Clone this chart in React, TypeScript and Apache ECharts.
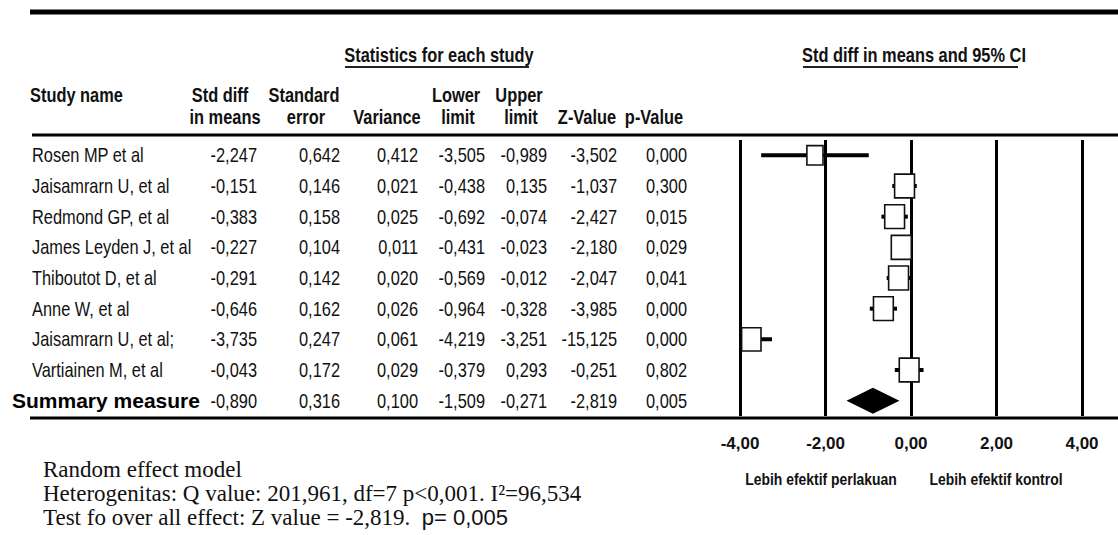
import React, { useEffect, useRef } from "react";
import * as echarts from "echarts";

// ---------------- data ----------------
const studyNames = [
  "Rosen MP et al",
  "Jaisamrarn U, et al",
  "Redmond GP, et al",
  "James Leyden J, et al",
  "Thiboutot D, et al",
  "Anne W, et al",
  "Jaisamrarn U, et al;",
  "Vartiainen M, et al",
];
const summaryName = "Summary measure";
// last entry of each array = summary measure
const stdDiff = [-2.247, -0.151, -0.383, -0.227, -0.291, -0.646, -3.735, -0.043, -0.89];
const stdError = [0.642, 0.146, 0.158, 0.104, 0.142, 0.162, 0.247, 0.172, 0.316];
const varianceVals = [0.412, 0.021, 0.025, 0.011, 0.02, 0.026, 0.061, 0.029, 0.1];
const lowerLimit = [-3.505, -0.438, -0.692, -0.431, -0.569, -0.964, -4.219, -0.379, -1.509];
const upperLimit = [-0.989, 0.135, -0.074, -0.023, -0.012, -0.328, -3.251, 0.293, -0.271];
const zValue = [-3.502, -1.037, -2.427, -2.18, -2.047, -3.985, -15.125, -0.251, -2.819];
const pValue = [0.0, 0.3, 0.015, 0.029, 0.041, 0.0, 0.0, 0.802, 0.005];
const axisTicks = [-4, -2, 0, 2, 4];
const qValue = 201.961;
const df = 7;
const iSquared = 96.534;

const rowNames = [...studyNames, summaryName];

// ---------------- layout / style ----------------
const SANS = "'Liberation Sans', Arial, sans-serif";
const SERIF = "'Liberation Serif', 'Times New Roman', serif";
const NARROW_SCALE = 0.82; // emulate Arial Narrow
const GRID_TOP = 140;
const GRID_H = 276;
const NAME_X = 32;
const SUMMARY_X = 12;
const COL_RIGHT = [257, 340, 418, 485, 547, 617, 687];

const fmt3 = (v: number) => v.toFixed(3).replace(".", ",");
const fmt2 = (v: number) => v.toFixed(2).replace(".", ",");

const narrowText = (text: string, x: number, y: number, align: string, size: number, bold: boolean) => ({
  type: "text",
  x,
  y,
  scaleX: NARROW_SCALE,
  silent: true,
  style: {
    text,
    fontFamily: SANS,
    fontWeight: bold ? "bold" : "normal",
    fontSize: size,
    fill: "#111",
    textAlign: align,
    align,
    textVerticalAlign: "middle",
    verticalAlign: "middle",
  },
});

export default function App() {
  const ref = useRef<HTMLDivElement>(null);

  useEffect(() => {
    if (!ref.current) return;
    const chart = echarts.init(ref.current, undefined, { renderer: "svg" });

    const nStudy = studyNames.length;
    const xMin = axisTicks[0];
    const xMax = axisTicks[axisTicks.length - 1];

    // random-effects weights (DerSimonian-Laird tau^2 from Q) -> box area
    const wF = varianceVals.slice(0, nStudy).map((v) => 1 / v);
    const sW = wF.reduce((a, b) => a + b, 0);
    const sW2 = wF.reduce((a, b) => a + b * b, 0);
    const tau2 = Math.max(0, (qValue - df) / (sW - sW2 / sW));
    const wR = varianceVals.slice(0, nStudy).map((v) => 1 / (v + tau2));
    const wMax = Math.max(...wR);

    const columns = [stdDiff, stdError, varianceVals, lowerLimit, upperLimit, zValue, pValue];

    const tableData = rowNames.map((_, i) => [i, ...columns.map((c) => c[i])]);
    const studyData = studyNames.map((_, i) => [i, stdDiff[i], lowerLimit[i], upperLimit[i], wR[i]]);

    const option: any = {
      animation: false,
      grid: [
        { left: 0, width: 700, top: GRID_TOP, height: GRID_H },
        { left: 740, width: 342, top: GRID_TOP, height: GRID_H },
      ],
      xAxis: [
        { gridIndex: 0, type: "value", min: 0, max: 700, show: false },
        {
          gridIndex: 1,
          type: "value",
          min: xMin,
          max: xMax,
          interval: axisTicks[1] - axisTicks[0],
          axisLine: { show: false },
          axisTick: { show: false },
          splitLine: { show: true, lineStyle: { color: "#000", width: 3 } },
          axisLabel: {
            formatter: (v: number) => fmt2(v),
            fontFamily: SANS,
            fontWeight: "bold",
            fontSize: 17,
            color: "#111",
            margin: 19,
          },
        },
      ],
      yAxis: [
        { gridIndex: 0, type: "category", data: rowNames, inverse: true, show: false },
        { gridIndex: 1, type: "category", data: rowNames, inverse: true, show: false },
      ],
      series: [
        // statistics table
        {
          type: "custom",
          xAxisIndex: 0,
          yAxisIndex: 0,
          silent: true,
          clip: false,
          encode: { x: 2, y: 0 },
          data: tableData,
          renderItem: (params: any, api: any) => {
            const i = api.value(0);
            const isSummary = i === nStudy;
            const children: any[] = columns.map((_, j) => {
              const p = api.coord([COL_RIGHT[j], i]);
              return narrowText(fmt3(api.value(j + 1)), p[0], p[1], "right", 20, false);
            });
            if (isSummary) {
              const p = api.coord([SUMMARY_X, i]);
              children.push({
                type: "text",
                x: p[0],
                y: p[1],
                silent: true,
                style: {
                  text: rowNames[params.dataIndex],
                  fontFamily: SANS,
                  fontWeight: "bold",
                  fontSize: 21,
                  fill: "#000",
                  textAlign: "left",
                  align: "left",
                  textVerticalAlign: "middle",
                  verticalAlign: "middle",
                },
              });
            } else {
              const p = api.coord([NAME_X, i]);
              children.push(narrowText(rowNames[params.dataIndex], p[0], p[1], "left", 20, false));
            }
            return { type: "group", children };
          },
        },
        // study effects with CI
        {
          type: "custom",
          xAxisIndex: 1,
          yAxisIndex: 1,
          silent: true,
          clip: false,
          encode: { x: [1, 2, 3], y: 0 },
          data: studyData,
          renderItem: (_p: any, api: any) => {
            const i = api.value(0);
            const eff = api.value(1);
            const lo = api.value(2);
            const hi = api.value(3);
            const w = api.value(4);
            const c = api.coord([eff, i]);
            const a = api.coord([Math.max(lo, xMin), i]);
            const b = api.coord([Math.min(hi, xMax), i]);
            const s = Math.sqrt(w / wMax);
            const bw = 20 * s;
            const bh = 24 * s;
            return {
              type: "group",
              children: [
                {
                  type: "line",
                  shape: { x1: a[0], y1: c[1], x2: b[0], y2: c[1] },
                  style: { stroke: "#000", lineWidth: 4 },
                },
                {
                  type: "rect",
                  shape: { x: c[0] - bw / 2, y: c[1] - bh / 2, width: bw, height: bh },
                  style: { fill: "#fff", stroke: "#111", lineWidth: 1.6 },
                },
              ],
            };
          },
        },
        // summary diamond
        {
          type: "custom",
          xAxisIndex: 1,
          yAxisIndex: 1,
          silent: true,
          encode: { x: [1, 2, 3], y: 0 },
          data: [[nStudy, stdDiff[nStudy], lowerLimit[nStudy], upperLimit[nStudy]]],
          renderItem: (_p: any, api: any) => {
            const i = api.value(0);
            const c = api.coord([api.value(1), i]);
            const a = api.coord([api.value(2), i]);
            const b = api.coord([api.value(3), i]);
            return {
              type: "polygon",
              shape: {
                points: [
                  [a[0], c[1]],
                  [c[0], c[1] - 13],
                  [b[0], c[1]],
                  [c[0], c[1] + 13],
                ],
              },
              style: { fill: "#000" },
            };
          },
        },
      ],
      graphic: [
        // rules
        { type: "line", silent: true, shape: { x1: 30, y1: 12, x2: 1118, y2: 12 }, style: { stroke: "#000", lineWidth: 5 } },
        { type: "line", silent: true, shape: { x1: 32, y1: 135, x2: 1118, y2: 135 }, style: { stroke: "#000", lineWidth: 3 } },
        { type: "line", silent: true, shape: { x1: 30, y1: 418, x2: 1118, y2: 418 }, style: { stroke: "#000", lineWidth: 3 } },
        // underlines
        { type: "line", silent: true, shape: { x1: 345, y1: 67, x2: 529, y2: 67 }, style: { stroke: "#222", lineWidth: 2 } },
        { type: "line", silent: true, shape: { x1: 803, y1: 67, x2: 1018, y2: 67 }, style: { stroke: "#222", lineWidth: 2 } },
        narrowText("Statistics for each study", 439, 55, "center", 20, true),
        narrowText("Std diff in means and 95% CI", 914, 55, "center", 20, true),
        narrowText("Study name", 30, 95, "left", 20, true),
        narrowText("Std diff", 220, 95, "center", 20, true),
        narrowText("in means", 225, 117, "center", 20, true),
        narrowText("Standard", 304, 95, "center", 20, true),
        narrowText("error", 306, 117, "center", 20, true),
        narrowText("Variance", 387, 117, "center", 20, true),
        narrowText("Lower", 456, 95, "center", 20, true),
        narrowText("limit", 458, 117, "center", 20, true),
        narrowText("Upper", 519, 95, "center", 20, true),
        narrowText("limit", 521, 117, "center", 20, true),
        narrowText("Z-Value", 587, 117, "center", 20, true),
        narrowText("p-Value", 654, 117, "center", 20, true),
        narrowText("Lebih efektif perlakuan", 821, 479, "center", 17, true),
        narrowText("Lebih efektif kontrol", 996, 479, "center", 17, true),
        ...[
          ["Random effect model", 469],
          [`Heterogenitas: Q value: ${fmt3(qValue)}, df=${df} p<0,001. I²=${fmt3(iSquared)}`, 493],
          [`Test fo over all effect: Z value = ${fmt3(zValue[nStudy])}.  {s|p= ${fmt3(pValue[nStudy])}}`, 517],
        ].map(([t, y]) => ({
          type: "text",
          x: 43,
          y,
          silent: true,
          style: {
            text: t,
            fontFamily: SERIF,
            fontSize: 23,
            lineHeight: 21,
            fill: "#111",
            textAlign: "left",
            textVerticalAlign: "middle",
            rich: { s: { fontFamily: SANS, fontSize: 22, lineHeight: 21, fill: "#111" } },
          },
        })),
      ],
    };

    chart.setOption(option);
    return () => chart.dispose();
  }, []);

  return (
    <div
      ref={ref}
      style={{ position: "fixed", left: 0, top: 0, width: 1118, height: 535, background: "#fff" }}
    />
  );
}
